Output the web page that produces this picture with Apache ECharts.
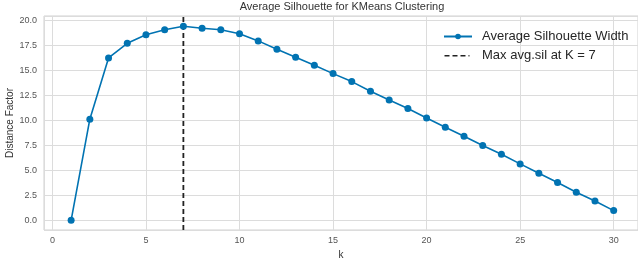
<!DOCTYPE html>
<html>
<head>
<meta charset="utf-8">
<script src="https://cdn.jsdelivr.net/npm/echarts@6/dist/echarts.min.js"></script>
<style>
  html, body { margin: 0; padding: 0; background: #fff; }
  #chart { width: 638px; height: 262px; }
</style>
</head>
<body>
<div id="chart"></div>
<script>
// 数据：k 值与对应的平均轮廓宽度
var kValues = [1, 2, 3, 4, 5, 6, 7, 8, 9, 10, 11, 12, 13, 14, 15,
  16, 17, 18, 19, 20, 21, 22, 23, 24, 25, 26, 27, 28, 29, 30];
var avgSilhouette = [0.0, 10.13, 16.27, 17.74, 18.6, 19.1, 19.45, 19.25, 19.1, 18.7, 17.98, 17.14, 16.34, 15.54, 14.7,
  13.9, 12.93, 12.06, 11.2, 10.26, 9.33, 8.42, 7.49, 6.62, 5.65, 4.71, 3.78, 2.81, 1.94, 0.97];
var bestK = 7;
var yRange = [-0.975, 20.475];

(function () {
  var myChart = echarts.init(document.getElementById("chart"));
  var font = "'Liberation Sans', Arial, sans-serif";
  var maxName = "Max avg.sil at K = " + bestK;

  var option = {
    animation: false,
    backgroundColor: "#fff",
    title: {
      text: "Average Silhouette for KMeans Clustering",
      left: 342,
      textAlign: "center",
      top: 1,
      padding: 0,
      textStyle: { fontFamily: font, fontSize: 11, fontWeight: "normal", color: "#333" }
    },
    legend: {
      orient: "vertical",
      left: 438,
      top: 25,
      itemWidth: 28,
      itemHeight: 7,
      itemGap: 6,
      textStyle: { fontFamily: font, fontSize: 13, color: "#262626", padding: [0, 0, 0, 5] },
      data: [
        "Average Silhouette Width",
        {
          name: maxName,
          // 虚线图例
          icon: "path://M0,3h5v1.5h-5z M8,3h5v1.5h-5z M16,3h5v1.5h-5z M24,3h1v1.5h-1z M27,0h0.01v0.01z M27,7h0.01v0.01z",
          itemStyle: { color: "#222" }
        }
      ]
    },
    grid: {
      left: 44,
      right: 0,
      top: 16,
      bottom: 32,
      outerBoundsMode: "none",
      show: true,
      borderColor: "#d0d0d0",
      borderWidth: 1
    },
    xAxis: {
      type: "value",
      min: -0.45,
      max: 31.3,
      minInterval: 5,
      maxInterval: 5,
      name: "k",
      nameLocation: "middle",
      nameGap: 16,
      nameTextStyle: { fontFamily: font, fontSize: 10, color: "#333" },
      axisLine: { show: false },
      axisTick: { show: false },
      axisLabel: {
        showMinLabel: false, showMaxLabel: false, margin: 6,
        fontFamily: font, fontSize: 9, color: "#555"
      },
      splitLine: { show: true, lineStyle: { color: "#dcdcdc", width: 1 } }
    },
    yAxis: {
      type: "value",
      min: yRange[0],
      max: yRange[1],
      minInterval: 2.5,
      maxInterval: 2.5,
      name: "Distance Factor",
      nameLocation: "middle",
      nameGap: 29,
      nameMoveOverlap: false,
      nameTextStyle: { fontFamily: font, fontSize: 10, color: "#333" },
      axisLine: { show: false },
      axisTick: { show: false },
      axisLabel: {
        showMinLabel: false, showMaxLabel: false, margin: 7,
        fontFamily: font, fontSize: 9, color: "#555",
        formatter: function (v) { return v.toFixed(1); }
      },
      splitLine: { show: true, lineStyle: { color: "#dcdcdc", width: 1 } }
    },
    series: [
      {
        name: "Average Silhouette Width",
        type: "line",
        data: kValues.map(function (k, i) { return [k, avgSilhouette[i]]; }),
        symbol: "circle",
        symbolSize: 7,
        color: "#0173b2",
        lineStyle: { width: 1.6, color: "#0173b2" },
        itemStyle: { color: "#0173b2" },
        z: 3
      },
      {
        name: maxName,
        type: "line",
        data: [[bestK, yRange[0]], [bestK, yRange[1]]],
        symbol: "none",
        color: "#222",
        lineStyle: { width: 1.8, type: [5, 3], color: "#222" },
        z: 2
      }
    ]
  };
  myChart.setOption(option);
})();
</script>
</body>
</html>
